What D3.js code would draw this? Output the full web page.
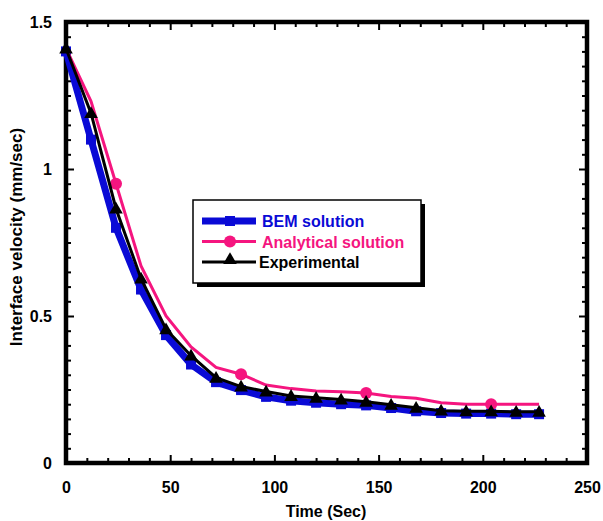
<!DOCTYPE html>
<html>
<head>
<meta charset="utf-8">
<script src="https://cdn.jsdelivr.net/npm/d3@7"></script>
<style>
  body { margin: 0; background: #fff; }
  svg text { font-family: "Liberation Sans", Arial, sans-serif; font-weight: bold; }
</style>
</head>
<body>
<svg id="chart" width="603" height="521"></svg>
<script>
// time (sec) for every sample
var timeSec = [0, 12, 24, 36, 48, 60, 72, 84, 96, 108, 120, 132, 144, 156, 168, 180, 192, 204, 216, 227]

// interface velocity (mm/sec)
var bemVel = [1.40, 1.10, 0.80, 0.59, 0.435, 0.335, 0.275, 0.248, 0.225, 0.212, 0.205, 0.200, 0.196, 0.187, 0.176, 0.170, 0.168, 0.168, 0.166, 0.166]
var analyticalVel = [1.41, 1.23, 0.95, 0.67, 0.50, 0.395, 0.325, 0.302, 0.265, 0.253, 0.245, 0.242, 0.238, 0.226, 0.220, 0.205, 0.200, 0.200, 0.200, 0.200]
var experimentalVel = [1.41, 1.19, 0.865, 0.627, 0.455, 0.365, 0.290, 0.260, 0.243, 0.228, 0.222, 0.216, 0.208, 0.198, 0.188, 0.178, 0.176, 0.176, 0.174, 0.174]

// which samples get a circle on the analytical curve
var analyticalMarkIdx = [2, 7, 12, 17]

var xMajorTicks = [0, 50, 100, 150, 200, 250]
var yMajorTicks = [0, 0.5, 1, 1.5]
var yTickLabels = ['0', '0.5', '1', '1.5']

var legendNames = ['BEM solution', 'Analytical solution', 'Experimental']

var blue = '#0a0ad6'
var pink = '#f5157f'

var svg = d3.select('#chart')
var plotL = 66, plotR = 587, plotT = 22, plotB = 463

var x = d3.scaleLinear().domain([0, 250]).range([plotL, plotR])
var y = d3.scaleLinear().domain([0, 1.5]).range([plotB, plotT])

var xMinor = d3.range(0, 251, 10).filter(function (d) { return d % 50 !== 0 })
var yMinor = d3.range(0, 31).map(function (i) { return i * 0.05 }).filter(function (d, i) { return i % 10 !== 0 })

function styleAxis (g) {
  g.select('.domain').remove()
  g.selectAll('line').attr('stroke', '#000').attr('stroke-width', 2)
  g.selectAll('text').attr('font-size', 16).attr('fill', '#000')
}

// bottom axis with labels
svg.append('g').attr('transform', 'translate(0,' + plotB + ')')
  .call(d3.axisBottom(x).tickValues(xMajorTicks).tickSizeInner(-8).tickSizeOuter(0).tickPadding(19).tickFormat(d3.format('d')))
  .call(styleAxis)
svg.append('g').attr('transform', 'translate(0,' + plotB + ')')
  .call(d3.axisBottom(x).tickValues(xMinor).tickSizeInner(-5).tickSizeOuter(0).tickFormat(''))
  .call(styleAxis)
// top mirrored
svg.append('g').attr('transform', 'translate(0,' + plotT + ')')
  .call(d3.axisTop(x).tickValues(xMajorTicks).tickSizeInner(-8).tickSizeOuter(0).tickFormat(''))
  .call(styleAxis)
svg.append('g').attr('transform', 'translate(0,' + plotT + ')')
  .call(d3.axisTop(x).tickValues(xMinor).tickSizeInner(-5).tickSizeOuter(0).tickFormat(''))
  .call(styleAxis)

// left axis with labels
svg.append('g').attr('transform', 'translate(' + plotL + ',0)')
  .call(d3.axisLeft(y).tickValues(yMajorTicks).tickSizeInner(-8).tickSizeOuter(0).tickPadding(14)
    .tickFormat(function (d, i) { return yTickLabels[i] }))
  .call(styleAxis)
svg.append('g').attr('transform', 'translate(' + plotL + ',0)')
  .call(d3.axisLeft(y).tickValues(yMinor).tickSizeInner(-5).tickSizeOuter(0).tickFormat(''))
  .call(styleAxis)
// right mirrored
svg.append('g').attr('transform', 'translate(' + plotR + ',0)')
  .call(d3.axisRight(y).tickValues(yMajorTicks).tickSizeInner(-8).tickSizeOuter(0).tickFormat(''))
  .call(styleAxis)
svg.append('g').attr('transform', 'translate(' + plotR + ',0)')
  .call(d3.axisRight(y).tickValues(yMinor).tickSizeInner(-5).tickSizeOuter(0).tickFormat(''))
  .call(styleAxis)

// frame
svg.append('rect')
  .attr('x', plotL).attr('y', plotT)
  .attr('width', plotR - plotL).attr('height', plotB - plotT)
  .attr('fill', 'none').attr('stroke', '#000').attr('stroke-width', 4.5)

// axis titles
svg.append('text')
  .attr('x', 326).attr('y', 517)
  .attr('text-anchor', 'middle').attr('font-size', 16)
  .text('Time (Sec)')

svg.append('text')
  .attr('transform', 'translate(22,237) rotate(-90)')
  .attr('text-anchor', 'middle').attr('font-size', 17)
  .text('Interface velocity (mm/sec)')

var line = d3.line()
  .x(function (d, i) { return x(timeSec[i]) })
  .y(function (d) { return y(d) })

var triangle = d3.symbol().type(d3.symbolTriangle).size(80)

// BEM
svg.append('path').datum(bemVel)
  .attr('d', line).attr('fill', 'none')
  .attr('stroke', blue).attr('stroke-width', 7).attr('stroke-linejoin', 'round')
svg.selectAll('.bem').data(bemVel).enter().append('rect')
  .attr('class', 'bem')
  .attr('x', function (d, i) { return x(timeSec[i]) - 5 })
  .attr('y', function (d) { return y(d) - 5 })
  .attr('width', 10).attr('height', 10)
  .attr('fill', blue)

// analytical
svg.append('path').datum(analyticalVel)
  .attr('d', line).attr('fill', 'none')
  .attr('stroke', pink).attr('stroke-width', 3)
svg.selectAll('.ana').data(analyticalMarkIdx).enter().append('circle')
  .attr('class', 'ana')
  .attr('cx', function (i) { return x(timeSec[i]) })
  .attr('cy', function (i) { return y(analyticalVel[i]) })
  .attr('r', 6)
  .attr('fill', pink)

// experimental
svg.append('path').datum(experimentalVel)
  .attr('d', line).attr('fill', 'none')
  .attr('stroke', '#000').attr('stroke-width', 3)
svg.selectAll('.exp').data(experimentalVel).enter().append('path')
  .attr('class', 'exp')
  .attr('transform', function (d, i) { return 'translate(' + x(timeSec[i]) + ',' + (y(d) + 1) + ')' })
  .attr('d', triangle)
  .attr('fill', '#000')

// legend
var lg = svg.append('g').attr('transform', 'translate(193,200)')
lg.append('rect').attr('x', 4).attr('y', 4).attr('width', 228).attr('height', 83).attr('fill', '#000')
lg.append('rect').attr('x', 0).attr('y', 0).attr('width', 228).attr('height', 83)
  .attr('fill', '#fff').attr('stroke', '#000').attr('stroke-width', 1.5)

var rows = [
  { name: legendNames[0], color: blue, width: 7, mark: 'square' },
  { name: legendNames[1], color: pink, width: 3, mark: 'circle' },
  { name: legendNames[2], color: '#000', width: 3, mark: 'triangle' }
]
rows.forEach(function (r, i) {
  var ry = 21 + i * 20.5
  lg.append('line').attr('x1', 9).attr('x2', 63).attr('y1', ry).attr('y2', ry)
    .attr('stroke', r.color).attr('stroke-width', r.width)
  if (r.mark === 'square') {
    lg.append('rect').attr('x', 32).attr('y', ry - 5).attr('width', 10).attr('height', 10).attr('fill', r.color)
  } else if (r.mark === 'circle') {
    lg.append('circle').attr('cx', 37).attr('cy', ry).attr('r', 6).attr('fill', r.color)
  } else {
    lg.append('path').attr('transform', 'translate(37,' + (ry - 2) + ')').attr('d', triangle).attr('fill', r.color)
  }
  lg.append('text').attr('x', i === 2 ? 66 : 69).attr('y', ry + 6)
    .attr('font-size', 16).attr('fill', r.color)
    .text(r.name)
})
</script>
</body>
</html>
